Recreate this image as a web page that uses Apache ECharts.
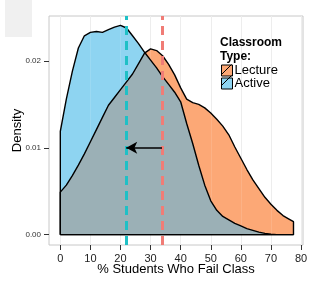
<!DOCTYPE html>
<html><head><meta charset="utf-8">
<script src="https://cdn.jsdelivr.net/npm/echarts@6/dist/echarts.min.js"></script>
<style>html,body{margin:0;padding:0;background:#fff}#c{width:322px;height:303px}</style>
</head><body><div id="c"></div>
<script>
const xs = [0,2,4,6,8,10,12,14,16,18,20,22,24,26,28,30,32,34,36,38,40,42,44,46,48,50,52,54,56,58,60,62,64,66,68,70,72,74,76,77.5];
const activeDensity = [0.0119,0.0156,0.0188,0.0215,0.0229,0.0233,0.0234,0.0233,0.0236,0.0239,0.0241,0.0238,0.0229,0.0220,0.0210,0.0201,0.0192,0.0182,0.0173,0.0164,0.0153,0.0128,0.0105,0.0080,0.0057,0.0039,0.0028,0.0021,0.0017,0.0013,0.0010,0.0007,0.0005,0.0003,0.00015,0.00005,0,0,0,0];
const lectureDensity = [0.0049,0.0057,0.0068,0.0080,0.0093,0.0107,0.0121,0.0135,0.0149,0.0158,0.0167,0.0176,0.0185,0.0197,0.0209,0.0214,0.0212,0.0206,0.0196,0.0184,0.0169,0.0156,0.0152,0.0150,0.0146,0.0140,0.0133,0.0125,0.0115,0.0101,0.0088,0.0075,0.0063,0.0053,0.0043,0.0035,0.0028,0.0022,0.0018,0.0015];
const meanActive = 21.9;
const meanLecture = 33.8;
const arrowY = 0.01;
const xTicks = [0,10,20,30,40,50,60,70,80];
const yTicks = [0,0.01,0.02];
const seriesNames = ['Lecture','Active'];

const colLecture = '#FCA876', colActive = '#8ED4F1', colOverlap = '#9BB0B6';
const pairs = vals => xs.map((x,i)=>[x, vals[i]]);
const overlap = xs.map((x,i)=>[x, Math.min(activeDensity[i], lectureDensity[i])]);
const outline = vals => [[xs[0],0], ...pairs(vals), [xs[xs.length-1],0], [xs[0],0]];

const chart = echarts.init(document.getElementById('c'), null, {renderer:'canvas'});
const areaSeries = (name, data, color, z) => ({
  name, type:'line', data, showSymbol:false, symbol:'none', z,
  lineStyle:{width:0}, itemStyle:{color}, areaStyle:{color, opacity:1}, silent:true, animation:false
});
const lineSeries = (name, data) => ({
  name, type:'line', data, showSymbol:false, symbol:'none', z:4,
  lineStyle:{color:'#000', width:1.4}, silent:true, animation:false
});
chart.setOption({
  animation:false,
  backgroundColor:'#fff',
  grid:{left:49, right:19, top:16, bottom:58, show:true, borderColor:'#c8c8c8', borderWidth:1, backgroundColor:'#fff', containLabel:false, outerBoundsMode:'none'},
  title:{text:'Classroom\nType:', left:220, top:36, textStyle:{fontFamily:'Liberation Sans', fontSize:12, fontWeight:'bold', color:'#000', lineHeight:14}, padding:0},
  legend:{data:seriesNames.map(n=>({name:n, itemStyle:{color:n==='Lecture'?colLecture:colActive, borderColor:'#000', borderWidth:1}})),
    orient:'vertical', left:221, top:64, icon:'rect', itemWidth:11, itemHeight:11, itemGap:0, padding:0,
    textStyle:{fontFamily:'Liberation Sans', fontSize:13, color:'#000', lineHeight:11, padding:[0,0,0,-3]}},
  xAxis:{type:'value', min:-3.76, max:80.66,
    name:'% Students Who Fail Class', nameLocation:'middle', nameGap:18, nameMoveOverlap:false,
    nameTextStyle:{fontFamily:'Liberation Sans', fontSize:13, color:'#000'},
    axisLine:{show:false, onZero:false},
    axisTick:{show:true, length:5, customValues:xTicks, lineStyle:{color:'#333'}},
    axisLabel:{customValues:xTicks, margin:8, fontFamily:'Liberation Sans', fontSize:11, color:'#222'},
    splitLine:{show:false}},
  yAxis:{type:'value', min:-0.00119, max:0.02518,
    name:'Density', nameLocation:'middle', nameGap:25, nameRotate:90, nameMoveOverlap:false,
    nameTextStyle:{fontFamily:'Liberation Sans', fontSize:13, color:'#000'},
    axisLine:{show:false, onZero:false},
    axisTick:{show:true, length:5, customValues:yTicks, lineStyle:{color:'#333'}},
    axisLabel:{customValues:yTicks, margin:8, fontFamily:'Liberation Sans', fontSize:8, color:'#333', formatter:v=>v.toFixed(2)},
    splitLine:{show:false}},
  series:[
    {name:'grid', type:'line', data:[], z:1, silent:true,
     markLine:{z:1, silent:true, symbol:'none', label:{show:false}, lineStyle:{color:'#ebebeb', width:1, type:'solid'},
       data:xTicks.map(v=>({xAxis:v}))}},
    areaSeries('Active', pairs(activeDensity), colActive, 2),
    areaSeries('Lecture', pairs(lectureDensity), colLecture, 2),
    areaSeries('Overlap', overlap, colOverlap, 3),
    {name:'gridOver', type:'line', data:[], z:3, silent:true,
     markLine:{z:3, silent:true, symbol:'none', label:{show:false}, lineStyle:{color:'rgba(255,255,255,0.12)', width:1, type:'solid'},
       data:xTicks.map(v=>({xAxis:v}))}},
    lineSeries('ActiveOutline', outline(activeDensity)),
    lineSeries('LectureOutline', outline(lectureDensity)),
    {name:'means', type:'line', data:[], z:5, silent:true,
     markLine:{z:5, silent:true, symbol:'none', label:{show:false},
       data:[
         {xAxis:meanActive, lineStyle:{color:'#1FC0C6', width:3, type:[9,6]}},
         {xAxis:meanLecture, lineStyle:{color:'#F07C76', width:3, type:[9,6]}}
       ]}},
    {name:'arrow', type:'line', data:[], z:6, silent:true,
     markLine:{z:6, silent:true, symbol:['none','arrow'], symbolSize:[9,11], label:{show:false},
       lineStyle:{color:'#000', width:1.5, type:'solid'},
       data:[[{coord:[meanLecture, arrowY]},{coord:[meanActive, arrowY]}]]}}
  ],
  graphic:[
    {type:'rect', shape:{x:5, y:0, width:27, height:37}, style:{fill:'#f0f0f0'}, z:0},
    {type:'line', shape:{x1:221.5, y1:74.5, x2:231.5, y2:64.5}, style:{stroke:'#000', lineWidth:1}, z:100},
    {type:'line', shape:{x1:221.5, y1:85.5, x2:231.5, y2:75.5}, style:{stroke:'#000', lineWidth:1}, z:100}
  ]
});
</script></body></html>
